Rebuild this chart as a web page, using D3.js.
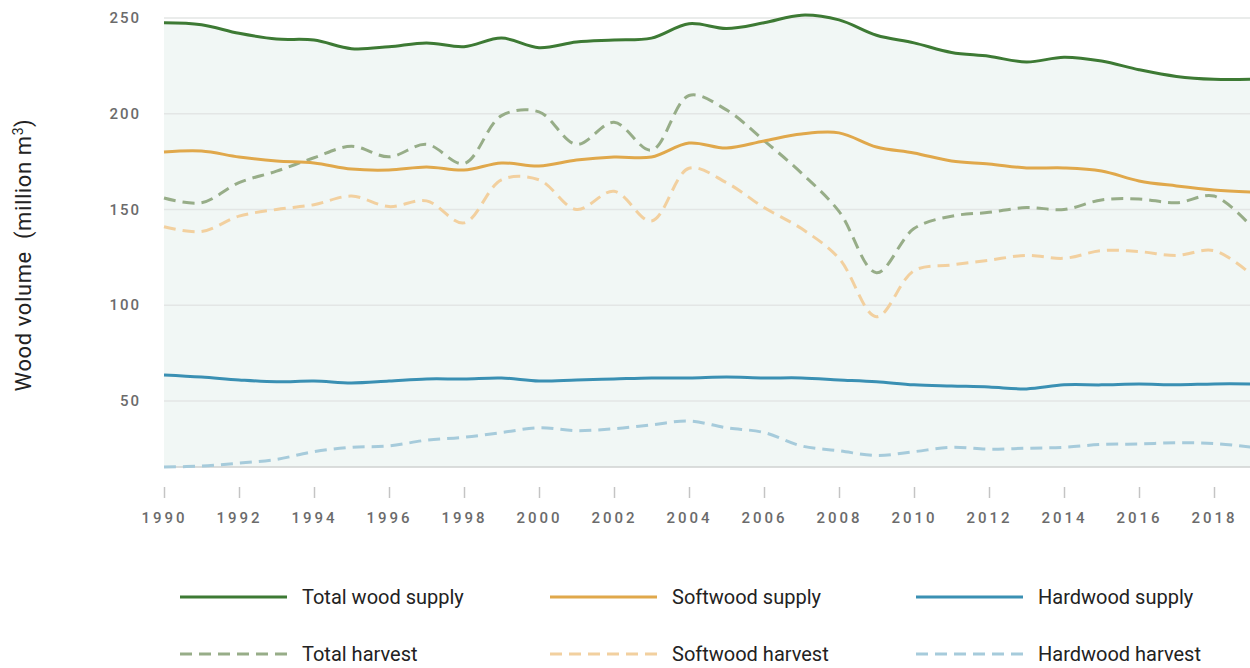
<!DOCTYPE html>
<html>
<head>
<meta charset="utf-8">
<script src="https://cdn.jsdelivr.net/npm/d3@7"></script>
<style>
  body { margin: 0; background: #fff; }
  svg { display: block; }
</style>
</head>
<body>
<div class="container"></div>
<script>
// wood volume per year, million m3
const years = d3.range(1990, 2020);
const totalSupply = [247.5, 246.5, 242, 239, 238.5, 234, 235, 237, 235, 239.5, 234.5, 237.5, 238.5, 239.5, 247, 244.5, 247.5, 251.5, 249, 241, 237, 232, 230, 227, 229.5, 227.5, 223, 219.5, 218, 218];
const softwoodSupply = [180, 180.5, 177.4, 175.3, 174.3, 171.1, 170.6, 172.2, 170.6, 174.3, 172.7, 175.8, 177.4, 177.4, 184.7, 182.1, 185.8, 189.4, 190, 182.6, 179.5, 175.3, 173.8, 171.7, 171.7, 170.1, 164.9, 162.3, 160.2, 159.1];
const hardwoodSupply = [63.6, 62.5, 61, 60, 60.4, 59.4, 60.4, 61.5, 61.5, 62, 60.4, 61, 61.5, 62, 62, 62.5, 62, 62, 61, 60, 58.4, 57.8, 57.3, 56.3, 58.4, 58.4, 58.9, 58.4, 58.9, 58.9];
const totalHarvest = [156, 153.5, 164, 170, 177, 183, 177.5, 184, 174, 199, 201, 184, 195.5, 181, 209.5, 202, 186, 169, 149, 117, 140, 146.5, 148.5, 151, 150, 155, 155.5, 153.5, 157, 141];
const softwoodHarvest = [141, 138.5, 146.5, 150, 152.5, 157, 151.5, 154.5, 143, 165.5, 165.5, 150, 159.5, 144, 171.5, 164, 151, 140, 124.5, 94, 118, 121, 123.5, 126, 124.5, 128.5, 128, 126, 128.5, 116];
const hardwoodHarvest = [15.5, 16, 17.5, 19.5, 23.5, 25.8, 26.5, 29.5, 31, 33.5, 36, 34.5, 35.5, 37.5, 39.5, 36, 33.5, 26.5, 24, 21.5, 23.5, 25.8, 24.8, 25.3, 25.8, 27.3, 27.5, 28.2, 27.8, 25.8];

const yTicks = [50, 100, 150, 200, 250];
const xTicks = d3.range(1990, 2019, 2);

const seriesNames = ['Total wood supply', 'Softwood supply', 'Hardwood supply', 'Total harvest', 'Softwood harvest', 'Hardwood harvest'];
const seriesValues = [totalSupply, softwoodSupply, hardwoodSupply, totalHarvest, softwoodHarvest, hardwoodHarvest];
const seriesColors = ['#3d7a34', '#e0a84b', '#3a90b3', '#97ad88', '#f2d09f', '#a6cbdb'];
const seriesDashed = [false, false, false, true, true, true];

const globals = {
  width: 1250,
  height: 668,
  fill: '#f1f7f5',
  grid: '#e3e6e5',
  tickText: '#6b6b6b',
  font: 'Roboto, "Open Sans", sans-serif'
};

const svg = d3.select('.container')
  .append('svg')
  .attr('width', globals.width)
  .attr('height', globals.height);

// scales: bottom of the plot sits on the smallest value
const xScale = d3.scaleLinear()
  .domain([1990, 2019])
  .range([164, 1251.5]);

const yMin = d3.min(seriesValues, s => d3.min(s));
const yScale = d3.scaleLinear()
  .domain([yMin, 250])
  .range([467, 18]);

// pale area under the total supply curve
const area = d3.area()
  .x((d, i) => xScale(years[i]))
  .y0(yScale(yMin))
  .y1(d => yScale(d))
  .curve(d3.curveCatmullRom);

svg.append('path')
  .attr('d', area(totalSupply))
  .attr('fill', globals.fill);

// horizontal gridlines
svg.append('g')
  .selectAll('line')
  .data(yTicks)
  .enter()
  .append('line')
  .attr('x1', xScale(1990))
  .attr('x2', globals.width)
  .attr('y1', d => yScale(d))
  .attr('y2', d => yScale(d))
  .attr('stroke', globals.grid)
  .attr('stroke-width', 1.5);

svg.append('line')
  .attr('x1', xScale(1990))
  .attr('x2', globals.width)
  .attr('y1', yScale(yMin))
  .attr('y2', yScale(yMin))
  .attr('stroke', '#cfd2d1')
  .attr('stroke-width', 1.5);

// y tick labels
svg.append('g')
  .selectAll('text')
  .data(yTicks)
  .enter()
  .append('text')
  .attr('x', 141)
  .attr('y', d => yScale(d))
  .attr('dy', '0.35em')
  .attr('text-anchor', 'end')
  .attr('font-family', globals.font)
  .attr('font-size', 15)
  .attr('font-weight', 500)
  .attr('letter-spacing', '2px')
  .attr('fill', globals.tickText)
  .text(d => d);

// x axis ticks and labels
const xAxis = svg.append('g')
  .attr('transform', 'translate(0, 487)')
  .call(d3.axisBottom(xScale).tickValues(xTicks).tickFormat(d3.format('d')).tickSize(11).tickPadding(14));

xAxis.select('.domain').remove();
xAxis.selectAll('.tick line')
  .attr('stroke', '#c4c4c4')
  .attr('stroke-width', 1.5);
xAxis.selectAll('.tick text')
  .attr('font-family', globals.font)
  .attr('font-size', 15)
  .attr('font-weight', 500)
  .attr('letter-spacing', '3px')
  .attr('fill', globals.tickText);

// y axis title
svg.append('text')
  .attr('transform', 'translate(31, 255) rotate(-90)')
  .attr('text-anchor', 'middle')
  .attr('font-family', globals.font)
  .attr('font-size', 22)
  .attr('letter-spacing', '0.6px')
  .attr('fill', '#222')
  .attr('xml:space', 'preserve')
  .html('Wood volume  (million m<tspan dy="-8" font-size="14">3</tspan><tspan dy="8">)</tspan>');

// the six lines
const line = d3.line()
  .x((d, i) => xScale(years[i]))
  .y(d => yScale(d))
  .curve(d3.curveCatmullRom);

const drawOrder = [5, 4, 3, 2, 1, 0];
svg.append('g')
  .selectAll('path')
  .data(drawOrder)
  .enter()
  .append('path')
  .attr('d', i => line(seriesValues[i]))
  .attr('fill', 'none')
  .attr('stroke', i => seriesColors[i])
  .attr('stroke-width', 3)
  .attr('stroke-dasharray', i => (seriesDashed[i] ? '12,7' : null));

// legend: three columns, two rows
const legendX = [180, 550, 916];
const legendY = [597, 654];

const legend = svg.append('g')
  .selectAll('g')
  .data(seriesNames)
  .enter()
  .append('g')
  .attr('transform', (d, i) => `translate(${legendX[i % 3]}, ${legendY[Math.floor(i / 3)]})`);

legend.append('line')
  .attr('x1', 0)
  .attr('x2', 107)
  .attr('stroke', (d, i) => seriesColors[i])
  .attr('stroke-width', 3)
  .attr('stroke-dasharray', (d, i) => (seriesDashed[i] ? '12,7' : null));

legend.append('text')
  .attr('x', 122)
  .attr('dy', '0.33em')
  .attr('font-family', globals.font)
  .attr('font-size', 20)
  .attr('fill', '#222')
  .text(d => d);
</script>
</body>
</html>
